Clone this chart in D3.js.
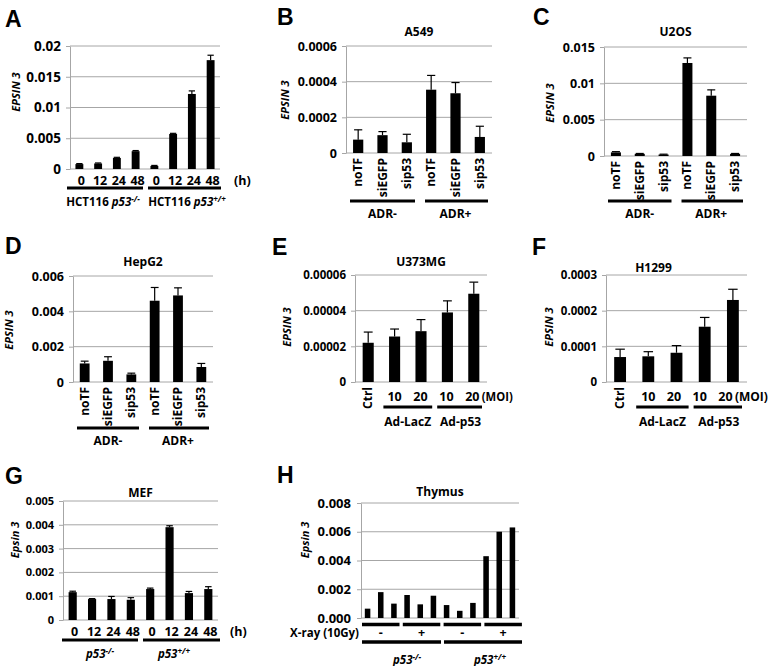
<!DOCTYPE html>
<html><head><meta charset="utf-8">
<script src="https://cdnjs.cloudflare.com/ajax/libs/d3/7.8.5/d3.min.js"></script>
<style>body{margin:0;background:#fff}svg{display:block}</style>
</head><body>
<script>
// ---------------- DATA ----------------
// Panel A: HCT116
const aCats = ["0","12","24","48","0","12","24","48"];
const aValues = [0.0008,0.0009,0.0018,0.0029,0.0005,0.0057,0.0122,0.0177];
const aErrors = [0.00008,0.00008,0.0001,0.0001,0.00008,0.0001,0.0005,0.0008];
const aTicks = [0,0.005,0.01,0.015,0.02];
const aTickLabels = ["0","0.005","0.01","0.015","0.02"];
// Panel B: A549
const bCats = ["noTF","siEGFP","sip53","noTF","siEGFP","sip53"];
const bValues = [0.000075,0.0001,0.00006,0.000355,0.000335,0.00009];
const bErrors = [0.000055,0.00002,0.000045,0.00008,0.00006,0.00006];
const bTicks = [0,0.0002,0.0004,0.0006];
const bTickLabels = ["0","0.0002","0.0004","0.0006"];
// Panel C: U2OS
const cCats = ["noTF","siEGFP","sip53","noTF","siEGFP","sip53"];
const cValues = [0.0005,0.0003,0.0002,0.0128,0.0083,0.0003];
const cErrors = [0.0001,0.00005,0.00005,0.0007,0.0008,0.00005];
const cTicks = [0,0.005,0.01,0.015];
const cTickLabels = ["0","0.005","0.01","0.015"];
// Panel D: HepG2
const dCats = ["noTF","siEGFP","sip53","noTF","siEGFP","sip53"];
const dValues = [0.00105,0.0012,0.00043,0.0046,0.0049,0.00085];
const dErrors = [0.00013,0.00023,0.00007,0.00075,0.00043,0.0002];
const dTicks = [0,0.002,0.004,0.006];
const dTickLabels = ["0","0.002","0.004","0.006"];
const adrGroups = ["ADR-","ADR+"];
// Panel E: U373MG
const eCats = ["Ctrl","10","20","10","20"];
const eValues = [0.000022,0.0000255,0.0000285,0.000039,0.0000495];
const eErrors = [0.000006,0.0000042,0.0000065,0.0000065,0.0000065];
const eTicks = [0,0.00002,0.00004,0.00006];
const eTickLabels = ["0","0.00002","0.00004","0.00006"];
// Panel F: H1299
const fCats = ["Ctrl","10","20","10","20"];
const fValues = [0.00007,0.000072,0.000082,0.000155,0.00023];
const fErrors = [0.000022,0.000013,0.00002,0.000026,0.00003];
const fTicks = [0,0.0001,0.0002,0.0003];
const fTickLabels = ["0","0.0001","0.0002","0.0003"];
const adGroups = ["Ad-LacZ","Ad-p53"];
// Panel G: MEF
const gCats = ["0","12","24","48","0","12","24","48"];
const gValues = [0.00117,0.00088,0.00088,0.00085,0.0013,0.0039,0.00113,0.0013];
const gErrors = [0.00004,0.00002,0.00011,0.00009,0.00004,0.00006,0.00007,0.0001];
const gTicks = [0,0.001,0.002,0.003,0.004,0.005];
const gTickLabels = ["0","0.001","0.002","0.003","0.004","0.005"];
// Panel H: Thymus
const hValues = [0.00065,0.0018,0.001,0.0016,0.00095,0.00155,0.0009,0.0005,0.00105,0.0043,0.006,0.0063];
const hTicks = [0,0.002,0.004,0.006,0.008];
const hTickLabels = ["0.000","0.002","0.004","0.006","0.008"];
const hXray = ["-","+","-","+"];

// ---------------- DRAWING ----------------
const FONT = "'Open Sans', Lato, 'DejaVu Sans', sans-serif";
const GRID = "#a6a6a6";
const svg = d3.select("body").append("svg").attr("width",772).attr("height",666)
  .attr("font-family",FONT);

function txt(g, x, y, s, o={}) {
  const t = g.append("text").attr("x",x).attr("y",y).text(s)
    .attr("font-size",o.fs||11).attr("font-weight",o.fw||"bold")
    .attr("font-style",o.it?"italic":"normal")
    .attr("text-anchor",o.anchor||"middle").attr("fill","#000");
  if (o.len) t.attr("textLength",o.len).attr("lengthAdjust","spacingAndGlyphs");
  return t;
}
function rich(g, x, y, parts, fs, anchor) {
  const t = g.append("text").attr("x",x).attr("y",y).attr("font-size",fs)
    .attr("font-weight","bold").attr("text-anchor",anchor||"middle");
  parts.forEach(p=>{
    const ts = t.append("tspan").text(p.t).attr("font-style",p.i?"italic":"normal");
    if (p.sup) ts.attr("font-size",fs*0.7).attr("dy",-fs*0.38);
  });
  return t;
}
function gline(g, x1, x2, y, w) {
  g.append("line").attr("x1",x1).attr("x2",x2).attr("y1",y).attr("y2",y)
   .attr("stroke","#000").attr("stroke-width",w||3);
}

function panel(o) {
  const g = svg.append("g");
  const y = d3.scaleLinear().domain([0,o.ticks[o.ticks.length-1]]).range([o.bottom,o.top]);
  const x = d3.scaleBand().domain(d3.range(o.values.length)).range([o.left,o.right])
    .paddingInner(o.pad||0.58).paddingOuter((o.pad||0.58)/2);
  g.selectAll(".grid").data(o.ticks).join("line")
    .attr("x1",o.left).attr("x2",o.right).attr("y1",d=>y(d)).attr("y2",d=>y(d))
    .attr("stroke",GRID).attr("stroke-width",1);
  const ax = d3.axisLeft(y).tickValues(o.ticks).tickFormat((d,i)=>o.tickLabels[i])
    .tickSize(4).tickSizeOuter(0).tickPadding(o.tp||5);
  const axg = g.append("g").attr("transform",`translate(${o.left},0)`).call(ax);
  axg.select(".domain").attr("stroke",GRID);
  axg.selectAll(".tick line").attr("stroke",GRID);
  axg.selectAll(".tick text").attr("font-family",FONT).attr("font-weight","bold")
    .attr("font-size",o.fs).attr("fill","#000");
  g.selectAll(".bar").data(o.values).join("rect")
    .attr("x",(d,i)=>x(i)).attr("width",x.bandwidth())
    .attr("y",d=>y(d)).attr("height",d=>y(0)-y(d)).attr("fill","#000");
  if (o.errors) {
    const cw = x.bandwidth()*0.4;
    o.errors.forEach((e,i)=>{
      const cx = x(i)+x.bandwidth()/2;
      g.append("line").attr("x1",cx).attr("x2",cx).attr("y1",y(o.values[i])).attr("y2",y(o.values[i]+e))
        .attr("stroke","#000").attr("stroke-width",1.2);
      g.append("line").attr("x1",cx-cw).attr("x2",cx+cw).attr("y1",y(o.values[i]+e)).attr("y2",y(o.values[i]+e))
        .attr("stroke","#000").attr("stroke-width",1.2);
    });
  }
  g.append("text").attr("x",o.lx).attr("y",o.ly).text(o.letter)
    .attr("font-family","'Liberation Sans', Arial, sans-serif").attr("font-weight","bold")
    .attr("font-size",23).attr("fill","#000");
  if (o.title) txt(g,(o.left+o.right)/2 + (o.tdx||0), o.ty, o.title, {fs:12});
  g.append("text").attr("transform",`translate(${o.ylx},${o.yly}) rotate(-90)`)
    .attr("text-anchor","middle").attr("font-size",o.ylfs||11).attr("font-weight","bold")
    .attr("font-style","italic").text(o.ylabel);
  return {g,x,y,step:x.step()};
}

// ----- A -----
(function(){
  const p = panel({left:70,right:220,top:46,bottom:169,values:aValues,errors:aErrors,ticks:aTicks,
    tickLabels:aTickLabels,fs:13.5,letter:"A",lx:5,ly:27,ylabel:"EPSIN 3",ylx:20,yly:92});
  aCats.forEach((c,i)=>txt(p.g,p.x(i)+p.x.bandwidth()/2+2,185,c,{fs:12.5}));
  txt(p.g,234,185,"(h)",{fs:12.5,anchor:"start"});
  gline(p.g,67,143,188); gline(p.g,148,221,188);
  rich(p.g,103,206,[{t:"HCT116 "},{t:"p53",i:true},{t:"-/-",i:true,sup:true}],11.5);
  rich(p.g,187,206,[{t:"HCT116 "},{t:"p53",i:true},{t:"+/+",i:true,sup:true}],11.5);
})();

function adrPanel(o, cats, groupY, labelY) {
  const p = panel(o);
  cats.forEach((c,i)=>{
    p.g.append("text").attr("transform",`translate(${p.x(i)+p.x.bandwidth()/2+4},${o.bottom+5}) rotate(-90)`)
      .attr("text-anchor","end").attr("font-size",12).attr("font-weight","bold").text(c);
  });
  const gw = p.step*3;
  gline(p.g,o.left+4,o.left+gw-4,groupY);
  gline(p.g,o.left+gw+6,o.right-4,groupY);
  txt(p.g,o.left+gw/2,labelY,adrGroups[0],{fs:12});
  txt(p.g,o.left+gw*1.5,labelY,adrGroups[1],{fs:12});
}
adrPanel({left:346,right:492,top:46,bottom:153,values:bValues,errors:bErrors,ticks:bTicks,
  tickLabels:bTickLabels,fs:12.5,letter:"B",lx:277,ly:25,title:"A549",ty:36,
  ylabel:"EPSIN 3",ylx:289,yly:100}, bCats, 201, 218);
adrPanel({left:604,right:747,top:47,bottom:156,values:cValues,errors:cErrors,ticks:cTicks,
  tickLabels:cTickLabels,fs:12.5,letter:"C",lx:533,ly:25,title:"U2OS",ty:36,
  ylabel:"EPSIN 3",ylx:554,yly:103}, cCats, 201, 218);
adrPanel({left:73,right:213,top:276,bottom:382,values:dValues,errors:dErrors,ticks:dTicks,
  tickLabels:dTickLabels,fs:12.5,letter:"D",lx:5,ly:254,title:"HepG2",ty:266,
  ylabel:"EPSIN 3",ylx:13,yly:330}, dCats, 428, 445);

function moiPanel(o) {
  const p = panel(o);
  const cx = i=>p.x(i)+p.x.bandwidth()/2;
  p.g.append("text").attr("transform",`translate(${cx(0)+4},${o.bottom+5}) rotate(-90)`)
    .attr("text-anchor","end").attr("font-size",12).attr("font-weight","bold").text(o.cats[0]);
  o.cats.slice(1).forEach((c,i)=>txt(p.g,cx(i+1)-i*o.shrink,401,c,{fs:12.5}));
  txt(p.g,cx(o.cats.length-1)+o.moiDx,401,"(MOI)",{fs:12,anchor:"start",len:o.moiLen});
  const s = p.step;
  gline(p.g,o.left+s+2,o.left+3*s-2,407);
  gline(p.g,o.left+3*s+3,o.right-5,407);
  txt(p.g,o.left+2*s,426,adGroups[0],{fs:12});
  txt(p.g,o.left+4*s,426,adGroups[1],{fs:12});
}
moiPanel({left:355,right:487,top:275,bottom:382,values:eValues,errors:eErrors,ticks:eTicks,
  tickLabels:eTickLabels,fs:11.5,letter:"E",lx:272,ly:255,title:"U373MG",ty:266,
  ylabel:"EPSIN 3",ylx:291,yly:327,cats:eCats,shrink:0.5,moiDx:8,moiLen:31});
moiPanel({left:606,right:747,top:275,bottom:382,values:fValues,errors:fErrors,ticks:fTicks,
  tickLabels:fTickLabels,fs:11.5,letter:"F",lx:532,ly:255,title:"H1299",ty:272,tdx:-23,
  ylabel:"EPSIN 3",ylx:553,yly:327,cats:fCats,shrink:2.5,moiDx:2,moiLen:33});

// ----- G -----
(function(){
  const p = panel({left:63,right:218,top:501,bottom:620,values:gValues,errors:gErrors,ticks:gTicks,
    tickLabels:gTickLabels,fs:11,letter:"G",lx:5,ly:484,title:"MEF",ty:497,
    ylabel:"Epsin 3",ylx:19,yly:540});
  gCats.forEach((c,i)=>txt(p.g,p.x(i)+p.x.bandwidth()/2+2,636,c,{fs:12.5}));
  txt(p.g,230,636,"(h)",{fs:12.5,anchor:"start"});
  gline(p.g,62,138,640); gline(p.g,143,220,640);
  rich(p.g,100,658,[{t:"p53",i:true},{t:"-/-",i:true,sup:true}],11.5);
  rich(p.g,174,658,[{t:"p53",i:true},{t:"+/+",i:true,sup:true}],11.5);
})();

// ----- H -----
(function(){
  const p = panel({left:361,right:519,top:503,bottom:618,values:hValues,ticks:hTicks,
    tickLabels:hTickLabels,fs:13,tp:6,letter:"H",lx:277,ly:483,title:"Thymus",ty:496,
    ylabel:"Epsin 3",ylx:309,yly:540,pad:0.58});
  const gw = p.step*3;
  hXray.forEach((s,k)=>{
    gline(p.g,361+k*gw+1+k*1.3,361+(k+1)*gw-1+k*1.3,624.5,3.5);
    txt(p.g,361+(k+0.5)*gw+k*1.3,637,s,{fs:12.5});
  });
  txt(p.g,359,637,"X-ray (10Gy)",{fs:11.5,anchor:"end"});
  gline(p.g,362,361+2*gw+1,642,3.5);
  gline(p.g,361+2*gw+4,522,642,3.5);
  rich(p.g,407,664,[{t:"p53",i:true},{t:"-/-",i:true,sup:true}],11.5);
  rich(p.g,490,664,[{t:"p53",i:true},{t:"+/+",i:true,sup:true}],11.5);
})();
</script>
</body></html>
